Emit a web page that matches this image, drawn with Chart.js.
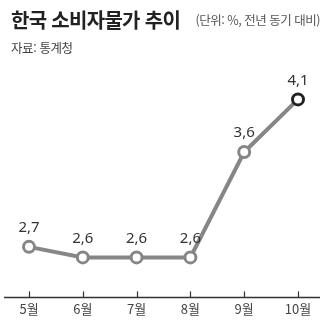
<!DOCTYPE html>
<html lang="ko">
<head>
<meta charset="utf-8">
<script src="https://cdn.jsdelivr.net/npm/chart.js@4"></script>
<style>
  html, body { margin: 0; padding: 0; background: #fff; }
  #wrap { position: relative; width: 331px; height: 326px; overflow: hidden; font-family: "Noto Sans CJK KR", "Noto Sans", sans-serif; }
  #title { position: absolute; left: 11px; top: 5px; font-size: 20px; font-weight: 700; color: #222; letter-spacing: -0.7px; line-height: 30px; }
  #unit { position: absolute; right: 11px; top: 11px; font-size: 12.5px; color: #555; letter-spacing: -0.5px; line-height: 18px; }
  #source { position: absolute; left: 11px; top: 39px; font-size: 12.5px; color: #444; letter-spacing: -0.4px; line-height: 18px; }
  #chart { position: absolute; left: 0; top: 0; }
</style>
</head>
<body>
<div id="wrap">
  <canvas id="chart" width="331" height="326"></canvas>
  <div id="title">한국 소비자물가 추이</div>
  <div id="unit">(단위: %, 전년 동기 대비)</div>
  <div id="source">자료: 통계청</div>
</div>
<script>
// 월별 소비자물가 상승률 (전년 동기 대비, %)
const months = ['5월', '6월', '7월', '8월', '9월', '10월'];
const cpiRates = [2.7, 2.6, 2.6, 2.6, 3.6, 4.1];
const valueLabels = ['2,7', '2,6', '2,6', '2,6', '3,6', '4,1'];

const lineGray = '#868686';

// 기준선과 눈금, 값 레이블
const axisAndLabels = {
  id: 'axisAndLabels',
  afterDraw(chart) {
    const { ctx, chartArea } = chart;
    const xs = chart.scales.x;
    const y0 = chartArea.bottom;
    ctx.save();
    ctx.strokeStyle = '#333';
    ctx.lineWidth = 1.5;
    ctx.beginPath();
    ctx.moveTo(4, y0);
    ctx.lineTo(320, y0);
    ctx.stroke();
    ctx.lineWidth = 1.2;
    months.forEach((m, i) => {
      const x = Math.round(xs.getPixelForValue(i)) + 0.5;
      ctx.beginPath();
      ctx.moveTo(x, y0 - 6);
      ctx.lineTo(x, y0);
      ctx.stroke();
    });
    const meta = chart.getDatasetMeta(0);
    ctx.fillStyle = '#333';
    ctx.font = '15px "Noto Sans", "DejaVu Sans", sans-serif';
    ctx.textAlign = 'center';
    ctx.textBaseline = 'middle';
    meta.data.forEach((pt, i) => {
      ctx.fillText(valueLabels[i], pt.x, pt.y - 19);
    });
    ctx.restore();
  }
};

new Chart(document.getElementById('chart'), {
  type: 'line',
  data: {
    labels: months,
    datasets: [{
      data: cpiRates,
      borderColor: lineGray,
      borderWidth: 4,
      tension: 0,
      pointRadius: 5.5,
      pointBorderWidth: 3,
      pointBackgroundColor: '#fff',
      pointBorderColor: cpiRates.map((v, i) => i === cpiRates.length - 1 ? '#222' : lineGray)
    }]
  },
  options: {
    responsive: false,
    animation: false,
    layout: { padding: { top: 67.8, left: 29, right: 33, bottom: 5 } },
    plugins: { legend: { display: false }, tooltip: { enabled: false } },
    scales: {
      x: {
        offset: false,
        grid: { display: false, drawTicks: false },
        border: { display: false },
        ticks: {
          padding: 4,
          color: '#444',
          font: { size: 13, family: '"Noto Sans CJK KR", sans-serif' }
        }
      },
      y: {
        display: false,
        min: 2.22,
        max: 4.4
      }
    }
  },
  plugins: [axisAndLabels]
});
</script>
</body>
</html>
